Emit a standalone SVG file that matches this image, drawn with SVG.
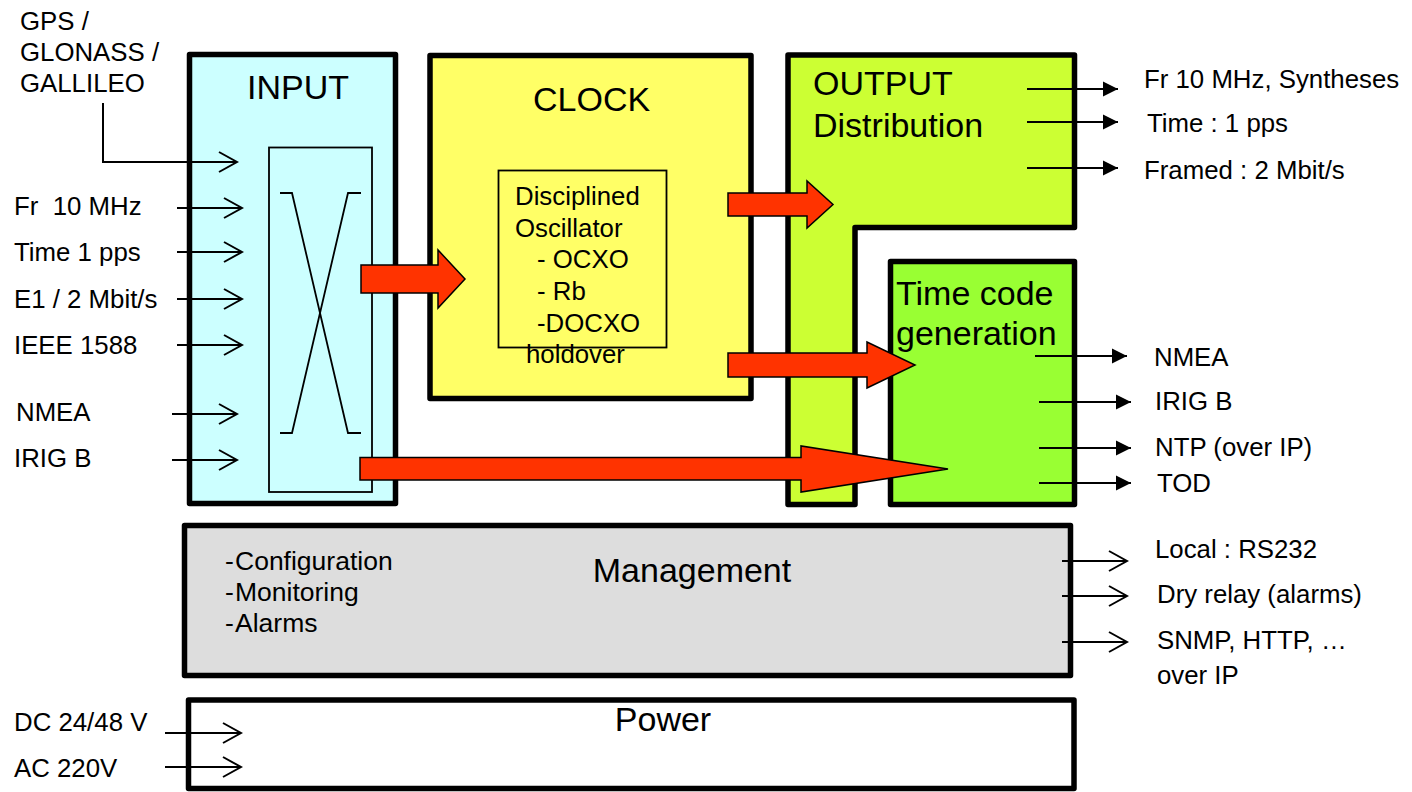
<svg xmlns="http://www.w3.org/2000/svg" width="1412" height="792" viewBox="0 0 1412 792">
<defs>
<style>
text{font-family:"Liberation Sans",Arial,sans-serif;fill:#000}
.s{font-size:25.8px}
.m{font-size:26.5px}
.t{font-size:34px}
.box{stroke:#000;stroke-width:5.5;stroke-linejoin:round}
.thin{fill:none;stroke:#000;stroke-width:1.8}
.ln{fill:none;stroke:#000;stroke-width:2}
.open{marker-end:url(#open)}
.solid{marker-end:url(#solid)}
.red{fill:#FF3300;stroke:#000;stroke-width:1.5;stroke-linejoin:miter}
</style>
<marker id="open" viewBox="-2 -12 22 24" refX="18" refY="0" markerWidth="22" markerHeight="24" markerUnits="userSpaceOnUse" orient="auto">
<path d="M0,-10 L18,0 L0,10" fill="none" stroke="#000" stroke-width="2"/>
</marker>
<marker id="solid" viewBox="0 -8 15 16" refX="15" refY="0" markerWidth="15" markerHeight="16" markerUnits="userSpaceOnUse" orient="auto">
<path d="M0,-7.5 L15,0 L0,7.5 Z" fill="#000"/>
</marker>
</defs>
<rect width="1412" height="792" fill="#fff"/>

<g id="input">
<rect class="box" x="189.5" y="54.5" width="206" height="449" fill="#CCFFFF"/>
<text class="t" x="247" y="99">INPUT</text>
<rect class="thin" x="269" y="147.5" width="103" height="344.5"/>
<path class="thin" d="M280,193 H292 L348,433 H361 M361,193 H348 L292,433 H280"/>
</g>

<g id="clock">
<rect class="box" x="430" y="55.5" width="321" height="343" fill="#FFFF66"/>
<text class="t" x="533" y="111">CLOCK</text>
<rect class="thin" x="498.5" y="170.5" width="168" height="177"/>
<text class="s" x="515" y="205">Disciplined</text>
<text class="s" x="515" y="237">Oscillator</text>
<text class="s" x="537" y="268">- OCXO</text>
<text class="s" x="537" y="300">- Rb</text>
<text class="s" x="537" y="332">-DOCXO</text>
<text class="s" x="526" y="363">holdover</text>
</g>

<g id="output">
<path class="box" d="M788,55 H1074.5 V227.5 H855 V504.5 H788 Z" fill="#CCFF33"/>
<text class="t" x="813" y="95">OUTPUT</text>
<text class="t" x="813" y="137">Distribution</text>
</g>

<g id="timecode">
<rect class="box" x="890.5" y="261.5" width="184" height="243" fill="#99FF33"/>
<text class="t" x="896" y="305">Time code</text>
<text class="t" x="896" y="345">generation</text>
</g>

<g id="management">
<rect class="box" x="184.5" y="525.5" width="886" height="150" fill="#DDDDDD"/>
<text class="t" x="692" y="582" text-anchor="middle">Management</text>
<text class="m" x="225" y="570">-<tspan x="235">Configuration</tspan></text>
<text class="m" x="225" y="601">-<tspan x="235">Monitoring</tspan></text>
<text class="m" x="225" y="632">-<tspan x="235">Alarms</tspan></text>
</g>

<g id="power">
<rect class="box" x="188.5" y="700" width="885.5" height="88.5" fill="#FFFFFF"/>
<text class="t" x="663" y="731" text-anchor="middle">Power</text>
</g>

<g id="labels">
<text class="s" x="20" y="30">GPS /</text>
<text class="s" x="20" y="61">GLONASS /</text>
<text class="s" x="20" y="92">GALLILEO</text>
<text class="s" x="14" y="215" xml:space="preserve">Fr  10 MHz</text>
<text class="s" x="14" y="261">Time 1 pps</text>
<text class="s" x="14" y="308">E1 / 2 Mbit/s</text>
<text class="s" x="14" y="354">IEEE 1588</text>
<text class="s" x="16" y="421">NMEA</text>
<text class="s" x="14" y="467">IRIG B</text>
<text class="s" x="14" y="731">DC 24/48 V</text>
<text class="s" x="14" y="777">AC 220V</text>
<text class="s" x="1144" y="88">Fr 10 MHz, Syntheses</text>
<text class="s" x="1147" y="132">Time : 1 pps</text>
<text class="s" x="1144" y="179">Framed : 2 Mbit/s</text>
<text class="s" x="1154" y="366">NMEA</text>
<text class="s" x="1155" y="410">IRIG B</text>
<text class="s" x="1155" y="456">NTP (over IP)</text>
<text class="s" x="1157" y="492">TOD</text>
<text class="s" x="1155" y="558">Local : RS232</text>
<text class="s" x="1157" y="603">Dry relay (alarms)</text>
<text class="s" x="1157" y="649">SNMP, HTTP, …</text>
<text class="s" x="1157" y="684">over IP</text>
</g>

<g id="connectors">
<path class="ln open" d="M103,103 V162 H237"/>
<path class="ln open" d="M177,208 H242"/>
<path class="ln open" d="M177,252 H242"/>
<path class="ln open" d="M177,299 H242"/>
<path class="ln open" d="M177,345 H242"/>
<path class="ln open" d="M172,414 H237"/>
<path class="ln open" d="M172,460 H237"/>
<path class="ln open" d="M165,733 H241"/>
<path class="ln open" d="M165,767 H241"/>
<path class="ln solid" d="M1027,89 H1118"/>
<path class="ln solid" d="M1027,122 H1118"/>
<path class="ln solid" d="M1027,168 H1118"/>
<path class="ln solid" d="M1035,356 H1127"/>
<path class="ln solid" d="M1039,402 H1131"/>
<path class="ln solid" d="M1039,448 H1131"/>
<path class="ln solid" d="M1039,483 H1131"/>
<path class="ln open" d="M1062,561 H1127"/>
<path class="ln open" d="M1062,596 H1127"/>
<path class="ln open" d="M1062,642 H1127"/>
<path class="red" d="M361,265 H438 V250 L465,279 L438,308 V293 H361 Z"/>
<path class="red" d="M728,193 H807 V181 L833,204.5 L807,228 V216 H728 Z"/>
<path class="red" d="M728,353 H867 V342 L915,365 L867,388 V377 H728 Z"/>
<path class="red" d="M360,457.5 H801 V446 L948,469 L801,492 V480 H360 Z"/>
</g>
</svg>
